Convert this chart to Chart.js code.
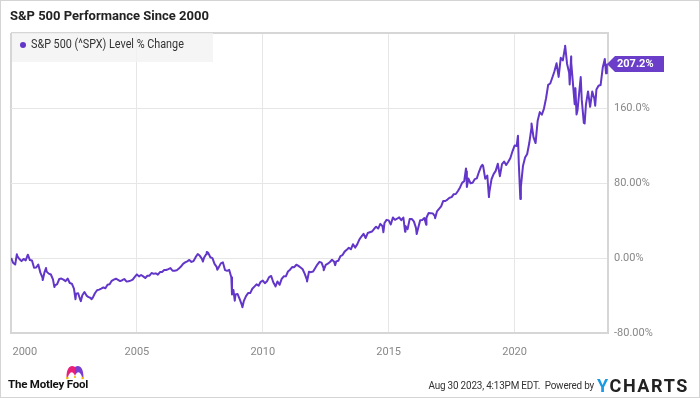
<!DOCTYPE html>
<html><head><meta charset="utf-8">
<script src="https://cdn.jsdelivr.net/npm/chart.js@4.4.0/dist/chart.umd.min.js"></script>
<style>
html,body{margin:0;padding:0;background:#fff;}
#wrap{position:relative;width:700px;height:398px;overflow:hidden;font-family:Roboto,"Noto Sans",sans-serif;}
#c{position:absolute;left:0;top:0;}
#frame{position:absolute;left:0;top:0;width:700px;height:398px;box-sizing:border-box;border:1px solid #d4d4d4;pointer-events:none;}
#title{position:absolute;left:10px;top:8px;font-weight:bold;font-size:13px;color:#222;white-space:nowrap;}
#legend{position:absolute;left:12px;top:33px;width:201px;height:29px;background:rgba(243,243,243,0.8);}
#legend .dot{position:absolute;left:8px;top:9px;width:6px;height:6px;border-radius:50%;background:#6236c8;}
#legend .txt{position:absolute;left:19px;top:4px;font-size:12px;color:#333;white-space:nowrap;transform:scaleX(0.9);transform-origin:left center;}
#fool{position:absolute;left:8px;top:377px;font-weight:bold;font-size:11.5px;color:#111;letter-spacing:-0.2px;white-space:nowrap;}
#hat{position:absolute;left:66px;top:364px;}
#stamp{position:absolute;right:106px;top:379px;font-size:11px;color:#333;letter-spacing:-0.2px;white-space:nowrap;transform:scaleX(0.9);transform-origin:right center;}
#ych{position:absolute;left:597px;top:375px;font-weight:bold;font-size:18px;letter-spacing:1.6px;color:#222;white-space:nowrap;}
#ych span{color:#1a9ae0;}
</style>
</head><body>
<div id="wrap">
<canvas id="c" width="700" height="398"></canvas>
<div id="title">S&amp;P 500 Performance Since 2000</div>
<div id="legend"><div class="dot"></div><div class="txt">S&amp;P 500 (^SPX) Level % Change</div></div>
<svg id="hat" width="18" height="16" viewBox="0 0 18 16">
<path d="M0.5,13 C0.5,3 5,0 9,3 L9,12 C7,7 4,7 2,13 Z" fill="#e8207a"/>
<path d="M17.5,13 C17.5,3 13,0 9,3 L9,12 C11,7 14,7 16,13 Z" fill="#7a3fd0"/>
<circle cx="1.3" cy="14" r="1.3" fill="#f5b800"/><circle cx="16.7" cy="14" r="1.3" fill="#f5b800"/><circle cx="9" cy="13" r="1.1" fill="#f5b800"/>
</svg>
<div id="fool">The Motley Fool</div>
<div id="stamp">Aug 30 2023, 4:13PM EDT.&nbsp; Powered by</div>
<div id="ych"><span>Y</span>CHARTS</div>
<div id="frame"></div>
</div>
<script>
// Dates ("YYYY-MM" = month end) and S&P 500 level % change since start of 2000
const dates = [
"2000-01-03","2000-01","2000-02","2000-03-24","2000-03","2000-04","2000-05","2000-06","2000-07","2000-09-01","2000-09","2000-10","2000-11","2000-12",
"2001-01","2001-02","2001-03","2001-04-04","2001-04","2001-05-21","2001-05","2001-06","2001-07","2001-08","2001-09-21","2001-09","2001-10","2001-11","2001-12",
"2002-01","2002-02","2002-03","2002-04","2002-05","2002-06","2002-07-23","2002-07","2002-08","2002-09","2002-10-09","2002-10","2002-11","2002-12",
"2003-01","2003-02","2003-03-11","2003-03","2003-04","2003-05","2003-06","2003-07","2003-08","2003-09","2003-10","2003-11","2003-12",
"2004-01","2004-02","2004-03","2004-04","2004-05","2004-06","2004-07","2004-08","2004-09","2004-10","2004-11","2004-12",
"2005-01","2005-02","2005-03","2005-04","2005-05","2005-06","2005-07","2005-08","2005-09","2005-10","2005-11","2005-12",
"2006-01","2006-02","2006-03","2006-04","2006-05","2006-06","2006-07","2006-08","2006-09","2006-10","2006-11","2006-12",
"2007-01","2007-02","2007-03","2007-04","2007-05","2007-06","2007-07","2007-08-15","2007-08","2007-09","2007-10-09","2007-10","2007-11","2007-12",
"2008-01","2008-02","2008-03-10","2008-03","2008-04","2008-05","2008-06","2008-07","2008-08","2008-09","2008-10-10","2008-10","2008-11-20","2008-11","2008-12",
"2009-01","2009-02","2009-03-09","2009-03","2009-04","2009-05","2009-06","2009-07","2009-08","2009-09","2009-10","2009-11","2009-12",
"2010-01","2010-02","2010-03","2010-04","2010-05","2010-06","2010-07-02","2010-07","2010-08","2010-09","2010-10","2010-11","2010-12",
"2011-01","2011-02","2011-03","2011-04","2011-05","2011-06","2011-07","2011-08","2011-09","2011-10-03","2011-10","2011-11","2011-12",
"2012-01","2012-02","2012-03","2012-04","2012-05","2012-06-01","2012-06","2012-07","2012-08","2012-09","2012-10","2012-11-15","2012-11","2012-12",
"2013-01","2013-02","2013-03","2013-04","2013-05","2013-06","2013-07","2013-08","2013-09","2013-10","2013-11","2013-12",
"2014-01","2014-02","2014-03","2014-04","2014-05","2014-06","2014-07","2014-08","2014-09","2014-10-15","2014-10","2014-11","2014-12",
"2015-01","2015-02","2015-03","2015-04","2015-05","2015-06","2015-07","2015-08-25","2015-08","2015-09","2015-10","2015-11","2015-12",
"2016-01","2016-02-11","2016-02","2016-03","2016-04","2016-05","2016-06-27","2016-06","2016-07","2016-08","2016-09","2016-10","2016-11-04","2016-11","2016-12",
"2017-01","2017-02","2017-03","2017-04","2017-05","2017-06","2017-07","2017-08","2017-09","2017-10","2017-11","2017-12",
"2018-01-26","2018-01","2018-02-08","2018-02","2018-03","2018-04","2018-05","2018-06","2018-07","2018-08","2018-09-20","2018-09","2018-10","2018-11","2018-12-24","2018-12",
"2019-01","2019-02","2019-03","2019-04","2019-05","2019-06","2019-07","2019-08","2019-09","2019-10","2019-11","2019-12",
"2020-01","2020-02-19","2020-02","2020-03-23","2020-03","2020-04","2020-05","2020-06","2020-07","2020-08","2020-09-02","2020-09","2020-10","2020-11","2020-12",
"2021-01","2021-02","2021-03","2021-04","2021-05","2021-06","2021-07","2021-08","2021-09","2021-10","2021-11","2021-12",
"2022-01-03","2022-01","2022-02","2022-03-08","2022-03-29","2022-03","2022-04","2022-05-20","2022-05","2022-06-16","2022-06","2022-07","2022-08-16","2022-08","2022-09","2022-10-12","2022-10","2022-11","2022-12",
"2023-01","2023-02","2023-03-13","2023-03","2023-04","2023-05","2023-06","2023-07","2023-08-18","2023-08-30"
];
const values = [
0.0,-5.1,-7.0,3.9,2.0,-1.1,-3.3,-1.0,-2.6,3.5,-2.2,-2.7,-10.5,-10.1,
-7.0,-15.6,-21.0,-23.5,-15.0,-10.7,-14.5,-16.7,-17.6,-22.8,-31.0,-29.2,-27.9,-22.4,-21.9,
-23.1,-24.7,-21.9,-26.7,-27.4,-32.6,-44.0,-38.0,-37.6,-44.5,-46.0,-39.7,-36.3,-40.1,
-41.8,-42.7,-44.0,-42.3,-37.6,-34.4,-33.7,-32.6,-31.4,-32.2,-28.5,-28.0,-24.3,
-23.0,-22.1,-23.3,-24.6,-23.7,-22.4,-25.0,-24.8,-24.1,-23.1,-20.1,-17.5,
-19.6,-18.1,-19.6,-21.3,-18.9,-18.9,-16.0,-16.9,-16.4,-17.8,-15.0,-15.0,
-12.9,-12.8,-11.9,-10.8,-13.6,-13.5,-13.1,-11.3,-9.1,-6.2,-4.7,-3.5,
-2.1,-4.2,-3.3,0.9,4.2,2.3,-0.9,-3.8,0.3,3.9,6.5,5.5,0.8,-0.1,
-6.2,-9.4,-12.5,-10.0,-5.7,-4.7,-12.9,-13.7,-12.7,-20.6,-39.0,-34.1,-45.5,-39.0,-38.5,
-43.8,-50.0,-52.5,-45.7,-40.6,-37.4,-37.4,-32.8,-30.5,-28.1,-29.5,-25.4,-24.1,
-26.9,-24.8,-20.4,-19.2,-25.9,-29.8,-30.4,-25.0,-28.6,-22.3,-19.5,-19.6,-14.4,
-12.5,-9.7,-9.8,-7.2,-8.4,-10.1,-12.0,-17.0,-23.0,-25.0,-14.7,-15.1,-14.4,
-10.7,-7.0,-4.1,-4.9,-10.8,-13.0,-7.3,-6.1,-4.3,-1.9,-3.9,-7.6,-3.6,-2.9,
2.0,3.1,6.8,8.7,11.0,9.3,14.7,11.1,14.5,19.6,22.9,25.8,
21.3,26.6,27.4,28.2,30.9,33.4,31.4,36.4,34.2,27.5,37.4,40.7,40.1,
35.8,43.2,40.7,41.9,43.4,40.4,43.2,28.0,34.2,30.7,41.5,41.6,39.1,
32.1,25.5,31.5,40.2,40.6,42.7,35.5,42.9,47.9,47.8,47.6,44.7,42.5,49.7,52.4,
55.1,60.9,60.8,62.3,64.2,64.9,68.1,68.2,71.5,75.3,80.2,82.0,
95.5,92.2,75.7,84.7,79.7,80.2,84.1,85.0,91.7,97.5,99.5,98.3,84.6,87.9,65.0,70.6,
84.0,89.5,92.9,100.5,87.3,100.2,102.9,99.2,102.6,106.7,113.8,119.9,
119.5,130.5,101.1,63.0,75.9,98.2,107.2,111.0,122.6,138.2,143.5,128.9,122.6,146.5,155.6,
152.8,159.4,170.4,184.6,186.1,192.5,199.2,207.8,193.2,213.5,210.8,224.4,
226.5,207.3,197.7,185.0,215.0,208.3,181.2,164.0,181.2,153.0,157.6,181.1,193.0,169.2,144.0,143.5,163.5,177.7,161.3,
177.5,170.2,162.4,179.7,183.8,184.5,202.9,212.3,197.0,207.2
];
const xTickValues = [2000, 2005, 2010, 2015, 2020];
const xTickLabels = ["2000", "2005", "2010", "2015", "2020"];
const yTickValues = [-80, 0, 80, 160, 240];
const yTickLabels = ["-80.00%", "0.00%", "80.00%", "160.0%", ""];

function toYear(s){
  const p = s.split('-').map(Number);
  if (p.length === 2) return p[0] + p[1] / 12;
  return p[0] + (p[1] - 1) / 12 + p[2] / 31 / 12;
}
const points = dates.map((d, i) => ({x: toYear(d), y: values[i]}));

const LINE = '#6236c8', GRID = '#e6e6e6', EDGE = '#d6d6d6';

const xLabelPlugin = {
  id: 'xLabels',
  afterDraw(chart){
    const {ctx, chartArea, scales} = chart;
    ctx.save();
    ctx.font = '11px Roboto';
    ctx.fillStyle = '#888';
    ctx.textBaseline = 'middle';
    xTickValues.forEach((v, i) => {
      const px = scales.x.getPixelForValue(v);
      if (i === 0) { ctx.textAlign = 'left'; ctx.fillText(xTickLabels[i], px + 1.5, chartArea.bottom + 19); }
      else { ctx.textAlign = 'center'; ctx.fillText(xTickLabels[i], px, chartArea.bottom + 19); }
    });
    ctx.restore();
  }
};
const tagPlugin = {
  id: 'lastTag',
  afterDraw(chart){
    const {ctx, chartArea, scales} = chart;
    const last = values[values.length - 1];
    const py = Math.round(scales.y.getPixelForValue(last));
    const x0 = chartArea.right - 1;
    ctx.save();
    ctx.fillStyle = '#6a3ec9';
    ctx.beginPath();
    ctx.moveTo(x0, py);
    ctx.lineTo(x0 + 8, py - 8);
    ctx.lineTo(x0 + 57, py - 8);
    ctx.lineTo(x0 + 57, py + 8);
    ctx.lineTo(x0 + 8, py + 8);
    ctx.closePath();
    ctx.fill();
    ctx.fillStyle = '#fff';
    ctx.font = 'bold 11px Roboto';
    ctx.textAlign = 'left';
    ctx.textBaseline = 'middle';
    ctx.fillText(last.toFixed(1) + '%', x0 + 10, py + 0.5);
    ctx.restore();
  }
};

new Chart(document.getElementById('c'), {
  type: 'line',
  data: { datasets: [{ data: points, borderColor: LINE, borderWidth: 2, pointRadius: 0, tension: 0, fill: false, borderJoinStyle: 'round' }] },
  options: {
    responsive: false, animation: false, devicePixelRatio: 1,
    layout: { padding: { left: 11, top: 33, right: 0, bottom: 0 } },
    plugins: { legend: { display: false }, tooltip: { enabled: false } },
    scales: {
      x: {
        type: 'linear', min: 2000, max: 2023.71,
        afterBuildTicks: s => { s.ticks = xTickValues.map(v => ({ value: v })); },
        afterFit: s => { s.height = 65; },
        ticks: { display: false },
        grid: { drawTicks: false, color: c => (c.tick && c.tick.value === 2000) ? EDGE : GRID, lineWidth: c => (c.tick && c.tick.value === 2000) ? 2 : 1 },
        border: { color: EDGE, width: 2 }
      },
      y: {
        position: 'right', min: -80, max: 240,
        afterBuildTicks: s => { s.ticks = yTickValues.map(v => ({ value: v })); },
        afterFit: s => { s.width = 92; },
        ticks: { padding: 6, color: '#888', font: { family: 'Roboto', size: 11 }, callback: (v) => yTickLabels[yTickValues.indexOf(v)] },
        grid: { drawTicks: false, color: c => (c.tick && c.tick.value === 240) ? EDGE : GRID, lineWidth: c => (c.tick && c.tick.value === 240) ? 2 : 1 },
        border: { color: EDGE, width: 2 }
      }
    }
  },
  plugins: [xLabelPlugin, tagPlugin]
});
</script>
</body></html>
